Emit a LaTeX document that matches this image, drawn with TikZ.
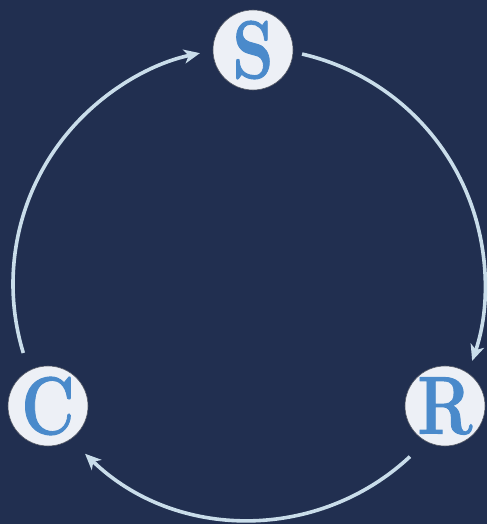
\documentclass[tikz,border=0pt]{standalone}
\usepackage{fontspec}
\newfontfamily\heavyserif{Latin Modern Roman}[FakeBold=1.2]
\usetikzlibrary{arrows.meta,calc}
\definecolor{bg}{HTML}{212F50}
\definecolor{disc}{HTML}{EDF0F6}
\definecolor{letter}{HTML}{4A8ACB}
\definecolor{conn}{HTML}{C9DDEA}
\definecolor{rim}{HTML}{555A66}
\tikzset{
  letternode/.style={circle, fill=disc, draw=rim, line width=0.6pt, minimum size=80pt, inner sep=0pt,
    text=letter, font=\heavyserif\fontsize{82}{84}\selectfont\bfseries},
  connector/.style={draw=conn, line width=3.6pt, -{Stealth[length=16pt,width=14pt,inset=4.5pt]}},
}
\begin{document}
\begin{tikzpicture}[x=1pt,y=1pt]
  \fill[bg] (0,0) rectangle (487,524);
  \useasboundingbox (0,0) rectangle (487,524);
  \coordinate (O) at (249,240);
  \node[letternode] (S) at (253,474) {\scalebox{0.8}[1]{S}};
  \node[letternode] (C) at (48,118) {\scalebox{0.8}[1]{C}};
  \node[letternode] (R) at (445,118) {\scalebox{0.8}[1]{R}};
  % arcs of the big circle between the nodes
  \coordinate (sr1) at ($(O)+(77:236)$);
  \coordinate (rc1) at ($(O)+(-47:236)$);
  \coordinate (cs1) at ($(O)+(197:236)$);
  \draw[connector] (sr1) arc[start angle=77, end angle=-19, radius=236];
  \draw[connector] (rc1) arc[start angle=-47, end angle=-134, radius=236];
  \draw[connector] (cs1) arc[start angle=197, end angle=102, radius=236];
\end{tikzpicture}
\end{document}
